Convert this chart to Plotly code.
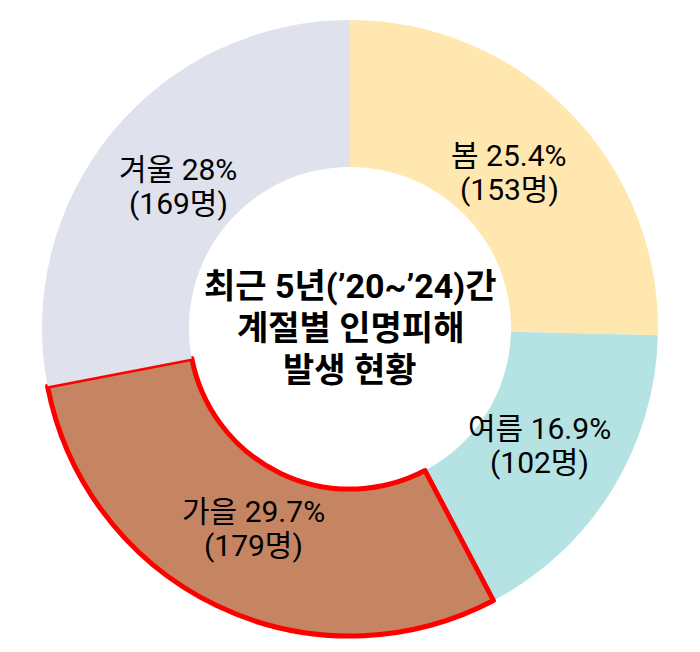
import math
import plotly.graph_objects as go

seasons = ["봄", "여름", "가을", "겨울"]
counts = [153, 102, 179, 169]
pct_labels = ["25.4%", "16.9%", "29.7%", "28%"]
colors = ["#FFE7AF", "#B5E2E2", "#C68562", "#DFE1EC"]
center_lines = ["최근 5년(’20~’24)간", "계절별 인명피해", "발생 현황"]

W, H = 700, 652
L, R, T, B = 34, 50, 12, 24  # page body has an 8px margin
HOLE = 0.523
FONT = "Roboto, Noto Sans CJK KR, sans-serif"

fig = go.Figure(go.Pie(
    labels=seasons,
    values=counts,
    textinfo="none",
    hole=HOLE,
    sort=False,
    direction="clockwise",
    rotation=0,
    marker=dict(colors=colors,
                line=dict(color=["rgba(0,0,0,0)", "rgba(0,0,0,0)", "#FF0000", "rgba(0,0,0,0)"],
                          width=[0, 0, 5, 0])),
    showlegend=False,
    hoverinfo="skip",
))

# slice labels placed at the middle angle of each slice, mid-ring
total = sum(counts)
pw, ph = W - L - R, H - T - B
radius = min(pw, ph) / 2
rmid = radius * (1 + HOLE) / 2 * 0.95
cum = 0
for s, p, c in zip(seasons, pct_labels, counts):
    mid = (cum + c / 2) / total * 2 * math.pi
    cum += c
    dx = rmid * math.sin(mid)
    dy = rmid * math.cos(mid)
    for line, shift in [(f"{s} {p}", 17), (f"({c}명)", -17)]:
        fig.add_annotation(
            text=line, x=0.5 + dx / pw, y=0.5 + dy / ph, xref="paper", yref="paper",
            xanchor="center", yanchor="middle", yshift=shift,
            showarrow=False, align="center",
            font=dict(size=30, color="#000000", family=FONT),
        )

for i, line in enumerate(center_lines):
    fig.add_annotation(
        text=f"<b>{line}</b>",
        x=0.5, y=0.5, xref="paper", yref="paper",
        xanchor="center", yanchor="middle", yshift=(1 - i) * 42,
        showarrow=False, font=dict(size=34, color="#000000", family=FONT),
    )

fig.update_layout(
    width=W, height=H,
    margin=dict(l=L, r=R, t=T, b=B),
    paper_bgcolor="white", plot_bgcolor="white",
)

fig.write_html("out.html")
